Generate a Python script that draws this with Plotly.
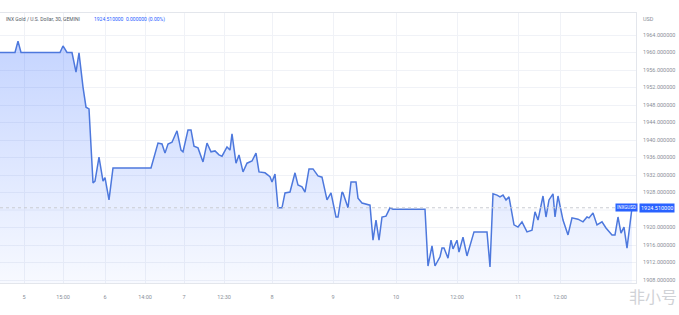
import plotly.graph_objects as go

# time position of each 30-min bar (chart units) and the close price
t = [0, 15, 18, 21, 60, 63, 67, 72, 76, 79, 83, 86, 89, 93, 95, 99, 103, 105, 109, 113, 151,
     158, 162, 165, 168, 172, 177, 181, 183, 188, 191, 194, 198, 203, 207, 211, 215, 219, 222,
     227, 230, 232, 236, 239, 243, 247, 252, 256, 259, 265, 270, 272, 275, 278, 282, 285, 290,
     295, 298, 302, 305, 309, 313, 318, 322, 327, 331, 336, 338, 342, 343, 348, 351, 356, 358,
     362, 370, 373, 376, 379, 382, 386, 390, 393, 425, 428, 432, 435, 440, 442, 444, 448, 451,
     453, 457, 459, 463, 467, 474, 487, 490, 493, 497, 500, 503, 506, 509, 514, 518, 522, 527,
     532, 535, 538, 543, 546, 549, 553, 555, 558, 563, 568, 572, 578, 583, 587, 589, 593, 597,
     602, 606, 612, 615, 618, 621, 624, 627, 632]
price = [1960.0, 1960.0, 1962.6, 1960.0, 1960.0, 1961.5, 1960.0, 1960.0, 1955.5, 1959.9, 1952.1,
         1947.5, 1947.1, 1930.2, 1930.6, 1936.1, 1930.6, 1931.4, 1926.3, 1933.6, 1933.6,
         1939.3, 1939.1, 1937.0, 1939.1, 1939.5, 1942.1, 1937.7, 1937.3, 1942.3, 1942.3, 1938.6,
         1938.2, 1935.0, 1939.3, 1937.3, 1937.5, 1936.6, 1936.3, 1938.4, 1937.7, 1941.4, 1934.7,
         1936.6, 1932.7, 1934.7, 1935.2, 1937.0, 1932.7, 1932.5, 1931.6, 1930.4, 1932.2, 1924.5,
         1924.5, 1927.9, 1928.1, 1932.5, 1929.7, 1929.3, 1928.1, 1933.4, 1933.4, 1931.8, 1931.5,
         1926.3, 1927.9, 1922.4, 1922.4, 1928.1, 1927.9, 1924.5, 1930.4, 1930.4, 1926.7, 1925.6,
         1925.1, 1917.1, 1921.7, 1917.1, 1922.4, 1922.6, 1924.5, 1924.2, 1924.2, 1911.2, 1915.8,
         1911.2, 1913.3, 1915.3, 1915.3, 1913.0, 1917.1, 1915.1, 1917.1, 1914.4, 1917.8, 1913.5,
         1919.0, 1919.0, 1911.0, 1927.7, 1927.4, 1927.0, 1927.4, 1926.3, 1927.0, 1920.6, 1920.1,
         1921.3, 1919.0, 1919.4, 1923.6, 1921.7, 1927.2, 1922.4, 1926.3, 1927.7, 1922.4, 1927.2,
         1921.7, 1918.3, 1922.2, 1921.9, 1921.3, 1922.4, 1922.2, 1923.3, 1920.6, 1921.3, 1919.9,
         1918.3, 1918.3, 1922.4, 1918.7, 1920.1, 1915.3, 1924.51]

x_tick_pos = [24, 63, 105, 145, 184, 224, 272, 333, 396, 457, 518, 560]
x_tick_text = ["5", "15:00", "6", "14:00", "7", "12:30", "8", "9", "10", "12:00", "11", "12:00"]
y_ticks = [1908, 1912, 1916, 1920, 1928, 1932, 1936, 1940, 1944, 1948, 1952, 1956, 1960, 1964]
y_grid = [1908, 1912, 1916, 1920, 1924, 1928, 1932, 1936, 1940, 1944, 1948, 1952, 1956, 1960, 1964]

last_price = 1924.51
symbol = "INXGUSD"
title_txt = "INX Gold / U.S. Dollar, 30, GEMINI"
title_val = "1924.510000  0.000000 (0.00%)"

W, H = 679, 315
ML, MR, MT, MB = 0, 43, 13, 32
pw = W - ML - MR
ph = H - MT - MB

LINE = "#4d78dd"
GRID = "#f0f2f7"
TXT = "#8a8f99"

fig = go.Figure()
fig.add_trace(go.Scatter(
    x=t, y=price, mode="lines",
    line=dict(color=LINE, width=1.5),
    fill="tozeroy",
    fillgradient=dict(type="vertical", start=1906, stop=1964,
                      colorscale=[[0, "rgba(41,98,255,0.03)"], [1, "rgba(41,98,255,0.28)"]]),
    hoverinfo="skip", showlegend=False,
))

# grid line at 1924 hidden behind the tag label, drawn as shape
fig.add_shape(type="line", xref="x", yref="y", x0=0, x1=636, y0=1924, y1=1924,
              line=dict(color=GRID, width=1), layer="below")
fig.add_shape(type="line", xref="x", yref="y", x0=0, x1=636, y0=last_price, y1=last_price,
              line=dict(color="#c9ccd3", width=1, dash="dot"))

fig.update_layout(
    width=W, height=H,
    margin=dict(l=ML, r=MR, t=MT, b=MB),
    paper_bgcolor="white", plot_bgcolor="white",
    font=dict(family="Roboto, Arial, sans-serif", size=6, color=TXT),
    xaxis=dict(range=[0, 636], tickvals=x_tick_pos, ticktext=x_tick_text,
               showgrid=True, gridcolor=GRID, gridwidth=1, zeroline=False,
               showline=True, linecolor="#e3e6ec", linewidth=1, mirror=True,
               ticks="", tickfont=dict(size=5.5, color=TXT), ticklabelstandoff=8),
    yaxis=dict(range=[1964 - (283 - 35) / 4.375, 1964 + (35 - 13) / 4.375], side="right",
               tickvals=y_ticks, tickformat=".6f",
               showgrid=True, gridcolor=GRID, gridwidth=1, zeroline=False,
               showline=True, linecolor="#e3e6ec", linewidth=1, mirror=True,
               ticks="", tickfont=dict(size=5.5, color=TXT), ticklabelstandoff=5),
)

def px_x(p):
    return (p - ML) / pw

def px_y(p):
    return (H - MB - p) / ph

anns = [
    dict(text=title_txt, x=px_x(4), y=px_y(19), xanchor="left", yanchor="middle",
         font=dict(size=5, color="#555b66")),
    dict(text=title_val, x=px_x(92), y=px_y(19), xanchor="left", yanchor="middle",
         font=dict(size=5, color="#2962ff")),
    dict(text="USD", x=px_x(641), y=px_y(19), xanchor="left", yanchor="middle",
         font=dict(size=5.5, color=TXT)),
    dict(text=symbol, x=px_x(615), y=px_y(207.5), xanchor="left", yanchor="middle",
         font=dict(size=4.5, color="white"), bgcolor="#2962ff", borderpad=1),
    dict(text=f"{last_price:.6f}", x=px_x(639), y=px_y(207.5), xanchor="left", yanchor="middle",
         font=dict(size=5.5, color="white"), bgcolor="#2962ff", borderpad=1),
    dict(text="非小号", x=px_x(679), y=px_y(296), xanchor="right", yanchor="middle",
         font=dict(family="Noto Sans CJK SC", size=16, color="#d0d2d6")),
]
for a in anns:
    a.update(xref="paper", yref="paper", showarrow=False)
fig.update_layout(annotations=anns)

fig.write_html("out.html")
